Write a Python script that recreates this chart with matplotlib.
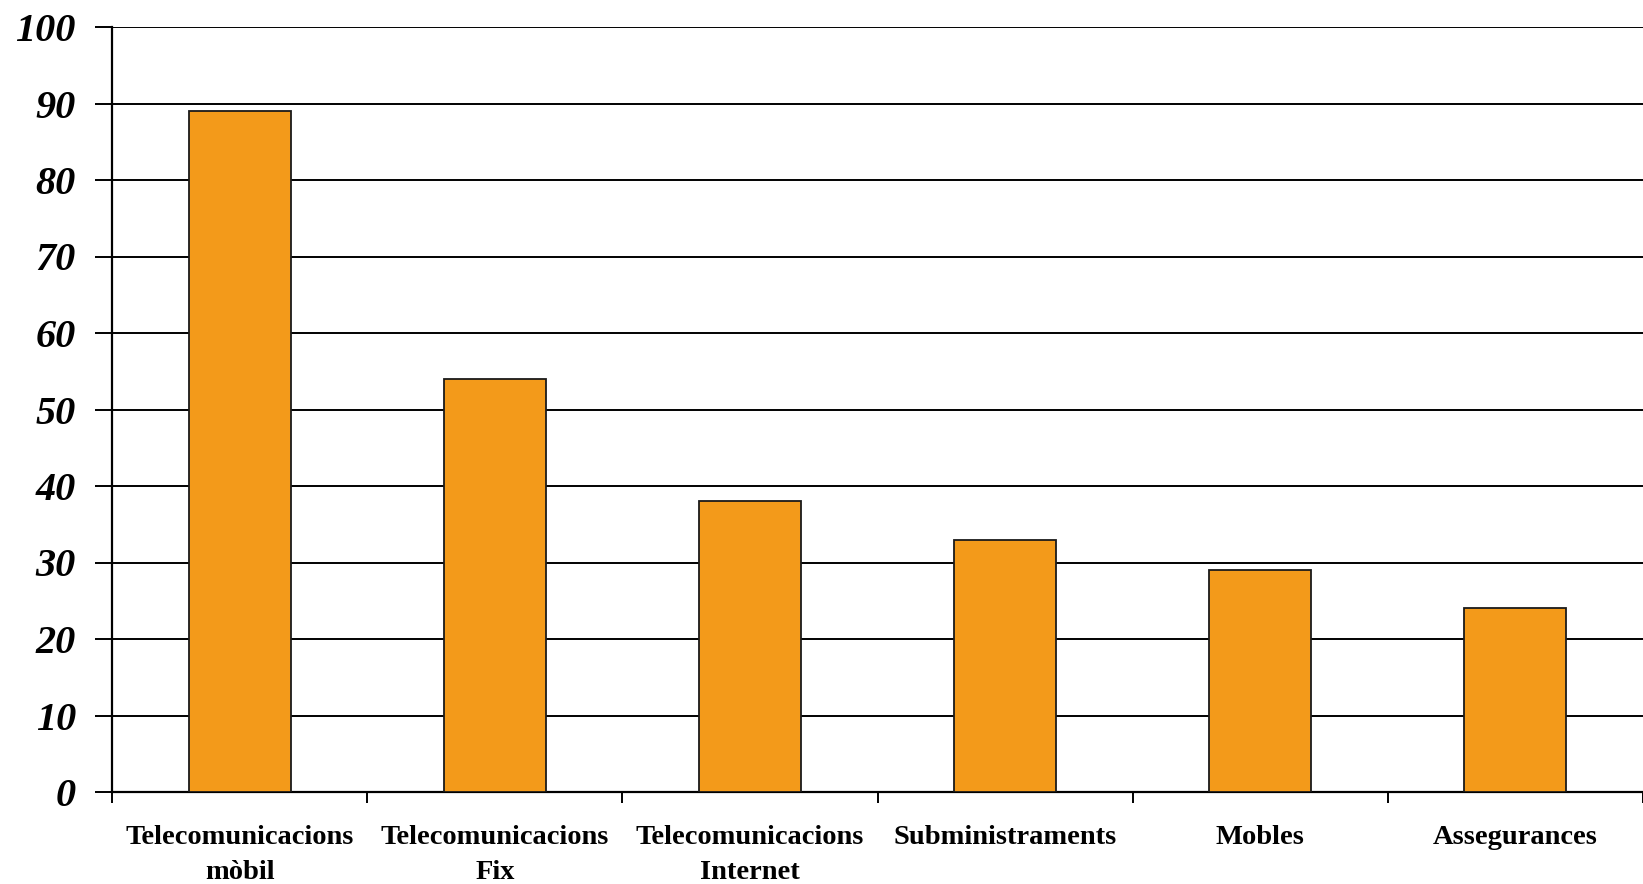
import matplotlib
matplotlib.use("Agg")
import matplotlib.pyplot as plt
import numpy as np

categories = ["Telecomunicacions\nmòbil", "Telecomunicacions\nFix", "Telecomunicacions\nInternet",
              "Subministraments", "Mobles", "Assegurances"]
values = [89, 54, 38, 33, 29, 24]
yticks = [0, 10, 20, 30, 40, 50, 60, 70, 80, 90, 100]

W, H = 1643, 884
fig = plt.figure(figsize=(W / 100, H / 100), dpi=100)
left, bottom, top = 112, 92, 27
cat_w = 258
ax = fig.add_axes([left / W, bottom / H, (W - left) / W, (H - bottom - top) / H])

x = np.arange(len(categories))
ax.bar(x, values, width=0.40, color="#F39A1A", edgecolor="#1a1a1a", linewidth=1.3, zorder=3)

ax.set_ylim(0, 100)
ax.set_xlim(-0.5, -0.5 + (W - left) / cat_w)
ax.set_yticks(yticks)
ax.set_yticklabels([str(v) for v in yticks], fontfamily="Liberation Serif",
                   fontstyle="italic", fontweight="bold", fontsize=29)
ax.yaxis.grid(True, color="black", linewidth=1.4, zorder=0)
ax.set_axisbelow(True)

ax.set_xticks(x)
ax.set_xticklabels(categories, fontfamily="Liberation Serif", fontweight="bold",
                   fontsize=20.5, linespacing=1.5)
ax.set_xticks(np.arange(len(categories) + 1) - 0.5, minor=True)
ax.tick_params(axis="x", which="major", length=0, pad=24)
ax.tick_params(axis="x", which="minor", length=8, width=1.4, direction="out")
ax.tick_params(axis="y", length=12, width=1.4, direction="out", pad=14)

for s in ["top", "right"]:
    ax.spines[s].set_visible(False)
ax.spines["left"].set_linewidth(1.6)
ax.spines["bottom"].set_linewidth(1.6)

fig.savefig("out.png", dpi=100, facecolor="white")
